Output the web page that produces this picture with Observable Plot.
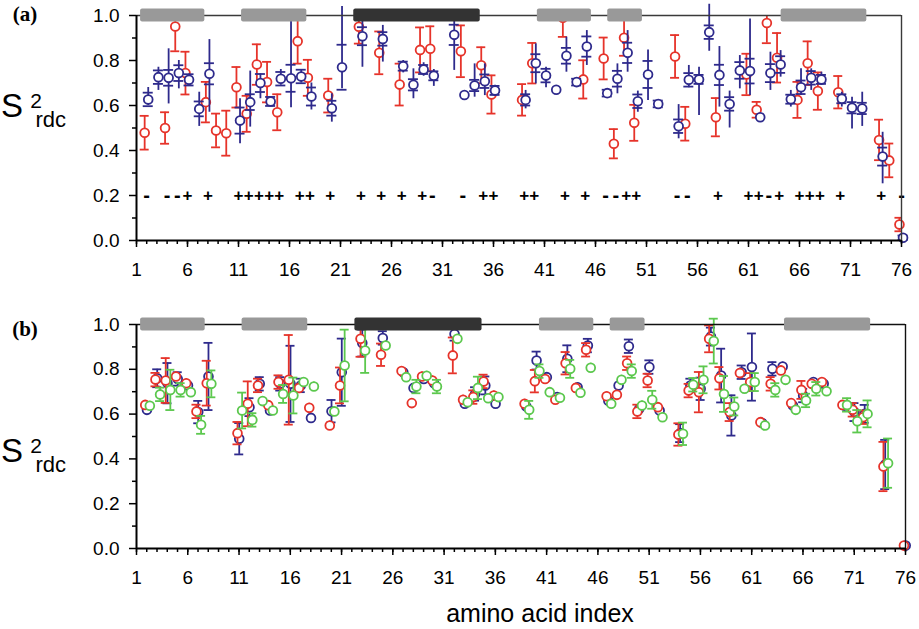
<!DOCTYPE html>
<html><head><meta charset="utf-8">
<script src="https://cdn.jsdelivr.net/npm/d3@7"></script>
<script src="https://cdn.jsdelivr.net/npm/@observablehq/plot@0.6"></script>
<style>
body{margin:0;background:#fff;}
#chart{width:919px;}
#chart svg{display:block;}
</style></head><body><div id="chart"></div>
<script>
// ---------- axis ticks ----------
const xMajor = [1,6,11,16,21,26,31,36,41,46,51,56,61,66,71,76];
const xMinor = d3.range(1,77);
const yMajor = [0,0.2,0.4,0.6,0.8,1.0];
const yMinor = [0.1,0.3,0.5,0.7,0.9];

// ---------- secondary structure (residue ranges) ----------
const ssStart = [1.4, 11.3, 22.3, 40.3, 47.2, 64.2];
const ssEnd   = [7.7, 17.7, 34.7, 45.6, 50.6, 72.6];
const ssType  = ["strand","strand","helix","strand","strand","strand"];

// ---------- panel (a) red ----------
const redResA = [2,4,5,6,8,9,10,11,12,13,14,15,17,18,20,23,25,27,29,30,33,35,36,39,40,43,45,47,48,49,50,54,55,58,61,62,63,64,66,67,68,70,74,75,76];
const redValA = [0.479,0.50,0.951,0.744,0.615,0.489,0.477,0.681,0.563,0.782,0.704,0.570,0.886,0.723,0.644,0.95,0.834,0.693,0.847,0.852,0.841,0.779,0.649,0.625,0.788,0.99,0.716,0.809,0.43,0.901,0.523,0.818,0.519,0.548,0.738,0.581,0.967,0.812,0.625,0.788,0.664,0.659,0.447,0.356,0.071];
const redErrA = [0.075,0.07,0.11,0.095,0.09,0.075,0.10,0.09,0.08,0.09,0.09,0.08,0.10,0.08,0.075,0.075,0.095,0.093,0.10,0.10,0.115,0.08,0.085,0.07,0.09,0.085,0.085,0.093,0.065,0.08,0.08,0.095,0.075,0.085,0.092,0.035,0.09,0.11,0.08,0.097,0.083,0.072,0.09,0.075,0.03];

// ---------- panel (a) blue ----------
const blueResA = [2,3,4,5,6,7,8,11,12,13,14,15,16,17,18,20,21,23,25,27,28,29,30,32,33,34,35,36,39,40,41,42,43,44,45,47,48,49,50,51,52,54,55,56,57,58,59,60,61,62,63,64,65,66,67,68,70,71,72,74,76];
const blueValA = [0.627,0.726,0.723,0.744,0.714,0.585,0.741,0.533,0.615,0.70,0.618,0.719,0.721,0.729,0.64,0.588,0.770,0.908,0.896,0.775,0.692,0.76,0.732,0.914,0.647,0.689,0.708,0.667,0.625,0.788,0.733,0.67,0.821,0.704,0.862,0.655,0.719,0.834,0.619,0.738,0.607,0.508,0.714,0.716,0.926,0.736,0.607,0.756,0.753,0.548,0.744,0.782,0.628,0.681,0.723,0.716,0.63,0.59,0.587,0.373,0.012];
const blueLoA  = [0.60,0.667,0.607,0.674,0.69,0.507,0.57,0.43,0.504,0.63,0.60,0.69,0.59,0.70,0.58,0.526,0.674,0.77,0.793,0.745,0.63,0.73,0.685,0.756,0.64,0.637,0.644,0.64,0.585,0.696,0.679,0.67,0.748,0.69,0.778,0.64,0.652,0.748,0.57,0.622,0.59,0.452,0.679,0.556,0.841,0.593,0.50,0.674,0.644,0.54,0.667,0.726,0.593,0.644,0.667,0.689,0.593,0.496,0.507,0.252,0.0];
const blueHiA  = [0.68,0.77,0.852,0.80,0.74,0.659,0.893,0.63,0.753,0.74,0.64,0.76,0.98,0.76,0.70,0.652,1.04,0.98,0.956,0.80,0.763,0.79,0.76,0.993,0.655,0.785,0.785,0.69,0.667,0.874,0.77,0.67,0.904,0.72,0.933,0.67,0.785,0.933,0.664,0.847,0.625,0.604,0.778,0.77,1.05,0.862,0.664,0.822,0.985,0.556,0.837,0.844,0.667,0.763,0.763,0.748,0.659,0.637,0.659,0.481,0.03];
const blueTickA = [0.03,0.03,0.035,0.035,0.025,0.033,0.047,0.058,0.035,0.04,0.02,0.03,0.06,0.03,0.04,0.033,0.1,0.04,0.03,0.02,0.025,0.02,0.02,0.045,0,0.025,0.03,0.02,0.025,0.04,0.03,0,0.035,0.015,0.045,0.015,0.035,0.045,0.03,0.06,0.015,0.03,0.03,0.02,0.03,0.045,0.03,0.037,0.055,0,0.04,0.037,0.02,0.03,0.03,0.02,0.02,0.025,0.025,0.04,0.01];

// ---------- panel (a) signs at 0.2 ----------
const plusRes  = [6,8,11,12,13,14,15,17,18,20,23,25,27,29,35,36,39,40,43,45,49,50,58,61,62,64,66,67,68,70,74];
const minusRes = [2,4,5,30,33,47,48,54,55,63,76];

// ---------- panel (b) ----------
const resB = [2,3,4,5,6,7,8,11,12,13,14,15,16,17,18,20,21,23,25,27,28,29,30,32,33,34,35,36,39,40,41,42,43,44,45,47,48,49,50,51,52,54,55,56,57,58,59,60,61,62,63,64,65,66,67,68,70,71,72,74,76];
const redValB = [0.641,0.754,0.75,0.768,0.738,0.612,0.738,0.515,0.646,0.728,0.64,0.743,0.753,0.717,0.628,0.549,0.728,0.936,0.865,0.792,0.649,0.768,0.75,0.862,0.664,0.676,0.746,0.683,0.646,0.747,0.757,0.664,0.827,0.717,0.887,0.68,0.686,0.827,0.612,0.75,0.631,0.509,0.705,0.698,0.936,0.76,0.609,0.783,0.743,0.564,0.735,0.795,0.649,0.708,0.735,0.743,0.641,0.619,0.586,0.366,0.013];
const redErrB = [.02,.03,.1,.02,.02,.03,.1,.05,.1,.03,.02,.03,.2,.02,.02,.02,.08,.08,.05,.02,.02,.02,.02,.08,.02,.03,.03,.02,.02,.05,.02,.02,.05,.02,.03,.02,.02,.03,.03,.03,.02,.05,.03,.09,.06,.05,.04,.02,.04,.02,.03,.02,.02,.04,.02,.02,.02,.03,.03,.11,.01];
const blueValB = [0.619,0.76,0.738,0.757,0.728,0.609,0.768,0.49,0.631,0.735,0.616,0.735,0.735,0.728,0.583,0.613,0.787,0.917,0.94,0.787,0.717,0.757,0.738,0.958,0.646,0.69,0.728,0.646,0.634,0.839,0.765,0.676,0.847,0.72,0.906,0.66,0.728,0.903,0.623,0.81,0.616,0.515,0.728,0.713,0.946,0.772,0.594,0.787,0.81,0.56,0.802,0.812,0.638,0.683,0.743,0.735,0.638,0.609,0.601,0.375,0.013];
const blueErrB = [.02,.04,.09,.03,.02,.05,.15,.07,.04,.03,.02,.03,.17,.03,.02,.05,.15,.06,.03,.02,.02,.02,.02,.03,.02,.03,.04,.02,.02,.04,.02,.02,.06,.02,.03,.02,.02,.03,.02,.03,.02,.04,.03,.05,.04,.12,.09,.03,.15,.02,.03,.02,.02,.03,.02,.02,.02,.04,.04,.11,.01];
const greenValB = [0.637,0.688,0.708,0.708,0.698,0.552,0.735,0.616,0.574,0.658,0.616,0.69,0.683,0.743,0.723,0.612,0.817,0.884,0.906,0.765,0.723,0.771,0.723,0.936,0.653,0.717,0.671,0.676,0.619,0.792,0.698,0.673,0.802,0.695,0.807,0.646,0.753,0.792,0.638,0.664,0.586,0.512,0.731,0.753,0.926,0.69,0.634,0.713,0.743,0.549,0.708,0.753,0.619,0.661,0.713,0.702,0.641,0.568,0.601,0.381,null];
const greenErrB = [.02,.03,.09,.03,.02,.04,.06,.08,.03,.02,.02,.04,.08,.02,.02,.02,.16,.1,.02,.02,.03,.02,.03,.02,.02,.05,.02,.02,.04,.03,.02,.02,.04,.02,.02,.02,.02,.03,.02,.04,.02,.05,.03,.06,.1,.08,.04,.02,.04,.02,.03,.02,.02,.03,.03,.02,.03,.05,.06,.11,0];

// ---------- build tables ----------
const RED = "#e6332a", BLUE = "#2e2a8c", GREEN = "#5cc84e";
const redA = redResA.map((r,i) => ({r, v: redValA[i], lo: redValA[i]-redErrA[i], hi: redValA[i]+redErrA[i]}));
const blueA = blueResA.map((r,i) => ({r, v: blueValA[i], lo: blueLoA[i], hi: blueHiA[i], t: blueTickA[i]}));
const plusA = plusRes.map(r => ({r, s: "+"}));
const minusA = minusRes.map(r => ({r, s: "-"}));
const ss = ssStart.map((s,i) => ({s, e: ssEnd[i], type: ssType[i]}));
const mk = (vals, errs) => resB.map((r,i) => ({r, v: vals[i], lo: vals[i]-errs[i], hi: vals[i]+errs[i], t: errs[i]})).filter(d => d.v != null);
const redB = mk(redValB, redErrB), blueB = mk(blueValB, blueErrB), greenB = mk(greenValB, greenErrB);

function seriesMarks(data, color, off, {clip = false, ticks = "ends"} = {}) {
  const xf = d => d.r + off;
  const marks = [
    Plot.ruleX(data, {x: xf, y1: "lo", y2: "hi", stroke: color, strokeWidth: 1.8, clip})
  ];
  if (ticks === "ends") {
    const capd = data.filter(d => d.hi - d.lo > 0.05);
    marks.push(Plot.ruleY(capd, {x1: xf, x2: xf, y: "lo", insetLeft: -4.5, insetRight: -4.5, stroke: color, strokeWidth: 1.8, clip}));
    marks.push(Plot.ruleY(capd, {x1: xf, x2: xf, y: "hi", insetLeft: -4.5, insetRight: -4.5, stroke: color, strokeWidth: 1.8, clip}));
  } else {
    const td = data.filter(d => d.t > 0);
    marks.push(Plot.ruleY(td, {x1: xf, x2: xf, y: d => d.v - d.t, insetLeft: -5, insetRight: -5, stroke: color, strokeWidth: 1.8}));
    marks.push(Plot.ruleY(td, {x1: xf, x2: xf, y: d => d.v + d.t, insetLeft: -5, insetRight: -5, stroke: color, strokeWidth: 1.8}));
  }
  marks.push(Plot.dot(data, {x: xf, y: "v", r: 4.4, stroke: color, fill: "white", strokeWidth: 1.8}));
  return marks;
}

function frameMarks(topColor) {
  return [
    Plot.ruleY([1], {stroke: topColor, strokeWidth: 1.4}),
    Plot.ruleX([76], {stroke: topColor, strokeWidth: 1.4}),
    Plot.axisY(yMajor, {tickSize: 7, tickPadding: 10, tickFormat: d3.format(".1f"), fontSize: 19, label: null, strokeWidth: 1.5, fill: "#000"}),
    Plot.axisY(yMinor, {tickSize: 4, tickFormat: () => "", label: null, strokeWidth: 1.5}),
    Plot.axisX(xMajor, {tickSize: 7, tickPadding: 15, tickFormat: d => d, fontSize: 19, label: null, strokeWidth: 1.5, fill: "#000"}),
    Plot.axisX(xMinor, {tickSize: 4, tickFormat: () => "", label: null, strokeWidth: 1.5}),
    Plot.ruleX([1], {stroke: "#000", strokeWidth: 2}),
    Plot.ruleY([0], {stroke: "#000", strokeWidth: 2})
  ];
}
const ssMarks = () => [
  Plot.rect(ss, {x1: "s", x2: "e", y1: 1, y2: 1, insetTop: -6.5, insetBottom: -6.5, rx: 2,
    fill: d => d.type === "helix" ? "#333333" : "#999999"})
];

function addLabels(svg, letter, letterBaseline, sBaseline) {
  const s = d3.select(svg);
  s.append("text").attr("x", 25).attr("y", letterBaseline)
    .attr("font-family", "Liberation Serif, Times New Roman, serif").attr("font-weight", "bold")
    .attr("font-size", 21).attr("fill", "#000").text(letter);
  const t = s.append("text").attr("font-family", "Liberation Sans, Arial, sans-serif").attr("fill", "#000");
  t.append("tspan").attr("x", 12).attr("y", sBaseline).attr("font-size", 33).text("S");
  t.append("tspan").attr("y", sBaseline - 9).attr("dx", 2).attr("font-size", 21).text("2");
  t.append("tspan").attr("y", sBaseline + 10).attr("dx", 3).attr("font-size", 22).text("rdc");
}

const style = {fontFamily: "Liberation Sans, Arial, sans-serif", fontSize: "19px", color: "#000", background: "#fff"};

const plotA = Plot.plot({
  width: 919, height: 300,
  marginLeft: 136, marginRight: 18, marginTop: 15, marginBottom: 60,
  x: {domain: [1, 76], axis: null},
  y: {domain: [0, 1], axis: null},
  style,
  marks: [
    ...seriesMarks(redA, RED, -0.2, {clip: true}),
    ...seriesMarks(blueA, BLUE, 0.15, {ticks: "inner"}),
    Plot.text(plusA, {x: "r", y: 0.2, text: "s", fontSize: 17, fontWeight: "bold", fill: "#000"}),
    Plot.text(minusA, {x: "r", y: 0.2, text: "s", fontSize: 20, fontWeight: "bold", fill: "#000"}),
    ...frameMarks("#3a3a3a"),
    ...ssMarks()
  ]
});
addLabels(plotA, "(a)", 21, 117);

const plotB = Plot.plot({
  width: 919, height: 329,
  marginLeft: 136, marginRight: 14, marginTop: 24, marginBottom: 81,
  x: {domain: [1, 76], axis: null},
  y: {domain: [0, 1], axis: null},
  style,
  marks: [
    ...seriesMarks(blueB, BLUE, 0.02),
    ...seriesMarks(redB, RED, -0.15),
    ...seriesMarks(greenB, GREEN, 0.3),
    ...frameMarks("#111"),
    ...ssMarks()
  ]
});
addLabels(plotB, "(b)", 36, 162);
d3.select(plotB).append("text").attr("x", 540).attr("y", 322).attr("text-anchor", "middle")
  .attr("font-family", "Liberation Sans, Arial, sans-serif").attr("font-size", 25).attr("fill", "#000")
  .text("amino acid index");

document.getElementById("chart").append(plotA, plotB);
</script></body></html>
